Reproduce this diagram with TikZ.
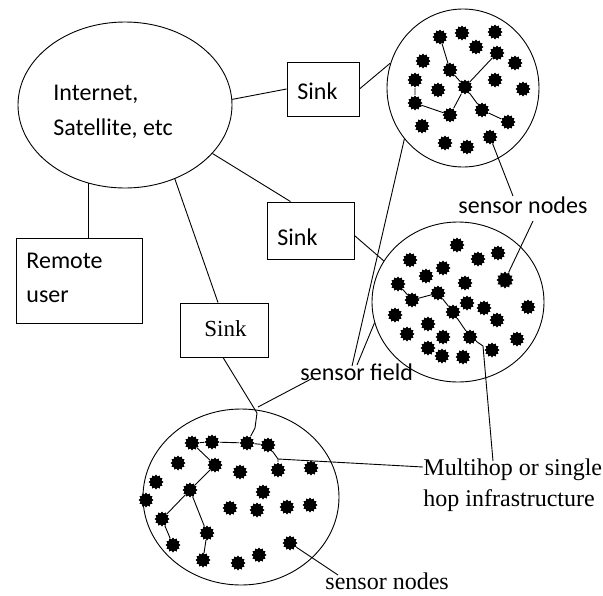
\documentclass[tikz,border=0pt]{standalone}
\usepackage{fontspec}
\setmainfont{Carlito}
\newfontfamily\tnr{Liberation Serif}
\usetikzlibrary{shapes.geometric}
\begin{document}
\begin{tikzpicture}[x=1pt,y=-1pt, line width=0.9pt,
  cal/.style={font=\fontsize{24}{28}\selectfont, inner sep=0pt, anchor=base west},
  tms/.style={font=\tnr\fontsize{24}{28}\selectfont, inner sep=0pt, anchor=base west},
  box/.style={draw, rectangle, inner sep=0pt},
  field/.style={draw, ellipse, inner sep=0pt},
  sn/.style={star, star points=12, star point ratio=1.3, fill=black, draw=none, inner sep=0pt, minimum size=15pt},
  ]
\useasboundingbox (0,0) rectangle (603,595);

% ellipses
\node[field, minimum width=214pt, minimum height=166pt] (net) at (125,105) {};
\node[field, minimum width=152pt, minimum height=158pt] (fA) at (463,88) {};
\node[field, minimum width=172pt, minimum height=160pt] (fB) at (458,302) {};
\node[field, minimum width=196pt, minimum height=176pt] (fC) at (241,497) {};

% boxes
\node[box, minimum width=72pt, minimum height=54pt] (sinkA) at (323,89) {};
\node[box, minimum width=87pt, minimum height=57pt] (sinkB) at (310.5,230.5) {};
\node[box, minimum width=88pt, minimum height=54pt] (sinkC) at (224,330) {};
\node[box, minimum width=126pt, minimum height=85pt] (remote) at (79,280.5) {};

% texts
\node[cal] (inet1) at (53,100) {Internet,};
\node[cal] (inet2) at (53,135) {Satellite, etc};
\node[cal] (sinkAt) at (297,99) {Sink};
\node[cal] (sinkBt) at (277,245) {Sink};
\node[tms, font=\tnr\fontsize{23}{26}\selectfont] (sinkCt) at (204,336) {Sink};
\node[cal] (rem1) at (26,268) {Remote};
\node[cal] (rem2) at (26,302) {user};
\node[cal] (sfield) at (300,380) {sensor field};
\node[cal] (snA) at (458,213) {sensor nodes};
\node[tms] (mh1) at (423,475) {Multihop or single};
\node[tms] (mh2) at (423,506) {hop infrastructure};
\node[tms] (snB) at (325,589) {sensor nodes};

% sensor nodes, top field
\foreach \n/\p in {a1/{440,37},a2/{462,33},a3/{495,32},a4/{476,47},a5/{497,53},a6/{423,61},
  a7/{515,63},a8/{450,70},a9/{415,80},a10/{438,90},a11/{465,87},a12/{495,80},a13/{523,89},
  a14/{415,103},a15/{450,115},a16/{482,110},a17/{508,122},a18/{422,126},a19/{445,143},
  a20/{467,147},a21/{490,137}}
  \node[sn] (\n) at (\p) {};
\draw (a11) -- (a8) -- (a1);
\draw (a11) -- (a5);
\draw (a11) -- (a15) -- (a14) -- (a9);
\draw (a11) -- (a16) -- (a17);

% sensor nodes, middle field
\foreach \n/\p in {b1/{457,245},b2/{478,259},b3/{498,253},b4/{410,260},b5/{443,268},b6/{426,276},
  b8/{465,283},b9/{398,284},b10/{438,293},b11/{412,300},b12/{467,303},b13/{484,308},
  b14/{528,307},b15/{395,315},b16/{453,312},b17/{497,320},b18/{428,324},b19/{407,334},
  b20/{443,337},b21/{470,337},b22/{517,339},b23/{428,348},b24/{492,350},b25/{442,356},b26/{463,357}}
  \node[sn] (\n) at (\p) {};
\node[sn, minimum size=17pt] (b7) at (505,280) {};
\draw (b9) -- (b11) -- (b10) -- (b16) -- (b21);

% sensor nodes, bottom field
\foreach \n/\p in {c1/{192,443},c2/{212,442},c3/{247,443},c4/{268,445},c5/{178,463},c6/{215,465},
  c7/{240,472},c8/{278,470},c9/{311,468},c10/{156,482},c11/{190,490},c12/{263,492},c13/{146,500},
  c14/{230,508},c15/{257,510},c16/{287,507},c17/{310,505},c18/{162,519},c19/{207,533},
  c20/{173,545},c21/{290,543},c22/{203,560},c23/{238,563},c24/{259,555}}
  \node[sn] (\n) at (\p) {};
\draw (c1) -- (c2) -- (c3) -- (c4);
\draw (c1) -- (c6) -- (c11) -- (c18) -- (c20);
\draw (c11) -- (c19) -- (c22);

% coordinates for free ends
\coordinate (bt) at (257,413);
\coordinate (bt2) at (255,428);
\coordinate (sf1) at (352,366);
\coordinate (sf2) at (357,365);
\coordinate (sf3) at (313,378);
\coordinate (sf4) at (258,407);
\coordinate (snAt) at (513,196);
\coordinate (snAb) at (533,221);
\coordinate (snBt) at (338,575);
\coordinate (mhA) at (483,346);
\coordinate (mhAe) at (493,461);
\coordinate (mhB) at (278,459);
\coordinate (mhBe) at (423,467);

% connectors
\draw (net.3) -- (sinkA.west);
\draw (sinkA.east) -- (fA.161);
\draw (net.-29) -- ([xshift=-20pt]sinkB.north);
\draw ([yshift=-5pt]sinkB.east) -- (fB.151);
\draw (net.-56) -- ([xshift=-6pt]sinkC.north);
\draw ([xshift=-1pt]sinkC.south) -- (bt) -- (bt2) -- (c3);
\draw (net.-115) -- (net.-115 |- remote.north);
\draw (fA.221) -- (sf1);
\draw (fB.194) -- (sf2);
\draw (sf3) -- (sf4);
\draw (a21) -- (snAt);
\draw (snAb) -- (b7);
\draw (c21) -- (snBt);
\draw (b21) -- (mhA) -- (mhAe);
\draw (c4) -- (mhB) -- (c8);
\draw (mhB) -- (mhBe);
\end{tikzpicture}
\end{document}
